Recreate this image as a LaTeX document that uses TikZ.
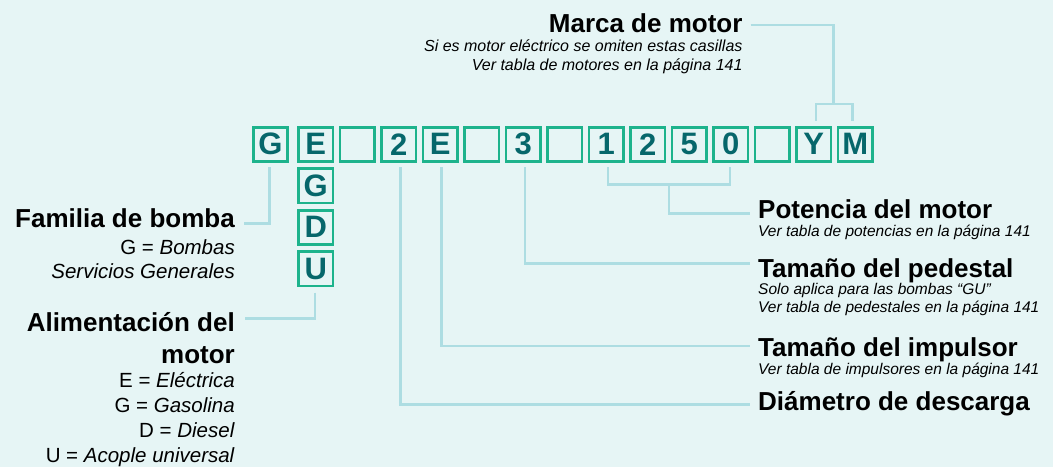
\documentclass[tikz,border=0pt]{standalone}
\usepackage{fontspec}
\setmainfont{Liberation Sans}
\usetikzlibrary{calc}
\definecolor{bgc}{HTML}{E6F5F5}
\definecolor{boxc}{HTML}{1DB38C}
\definecolor{letc}{HTML}{06676B}
\definecolor{linec}{HTML}{ADDDE2}
\begin{document}
\begin{tikzpicture}[x=1pt,y=-1pt,
 cbox/.style={draw=boxc, line width=2.7pt, minimum size=34.3pt, inner sep=0pt, text=letc, font=\fontsize{31}{31}\selectfont\bfseries},
 ttl/.style={inner sep=0pt, font=\fontsize{26}{30}\selectfont\bfseries},
 sub/.style={inner sep=0pt, font=\fontsize{15.5}{18}\selectfont\itshape},
 tsub/.style={inner sep=0pt, font=\fontsize{16}{18}\selectfont\itshape},
 desc/.style={inner sep=0pt, font=\fontsize{20.5}{24}\selectfont},
 conn/.style={draw=linec, line width=2.4pt}]
\fill[bgc] (0,0) rectangle (1053,467);
\useasboundingbox (0,0) rectangle (1053,467);

% code boxes
\node[cbox] (bG)  at (270.5,144.3) {G};
\node[cbox] (bE)  at (315.7,144.3) {E};
\node[cbox] (bx1) at (357.2,144.3) {};
\node[cbox] (b2)  at (398.7,144.3) {2};
\node[cbox] (bE2) at (440.2,144.3) {E};
\node[cbox] (bx2) at (481.7,144.3) {};
\node[cbox] (b3)  at (523.2,144.3) {3};
\node[cbox] (bx3) at (564.7,144.3) {};
\node[cbox] (b1)  at (606.2,144.3) {1};
\node[cbox] (b2b) at (647.7,144.3) {2};
\node[cbox] (b5)  at (689.2,144.3) {5};
\node[cbox] (b0)  at (730.7,144.3) {0};
\node[cbox] (bx4) at (772.2,144.3) {};
\node[cbox] (bY)  at (813.7,144.3) {Y};
\node[cbox] (bM)  at (855.2,144.3) {M};
\node[cbox] (cG)  at (315.7,185.8) {G};
\node[cbox] (cD)  at (315.7,227.3) {D};
\node[cbox] (cU)  at (315.7,268.8) {U};

% top label
\node[ttl, anchor=base east] (tMar) at (742.7,32) {Marca de motor};
\node[tsub, anchor=base east] (sMar1) at (742.7,51.5) {Si es motor eléctrico se omiten estas casillas};
\node[tsub, anchor=base east] (sMar2) at (742.7,70) {Ver tabla de motores en la página 141};

% right labels
\node[ttl, anchor=base west] (tPot) at (758,218) {Potencia del motor};
\node[sub, anchor=base west] (sPot) at (758,236.5) {Ver tabla de potencias en la página 141};
\node[ttl, anchor=base west] (tPed) at (758,277.5) {Tamaño del pedestal};
\node[sub, anchor=base west] (sPed1) at (758,294) {Solo aplica para las bombas “GU”};
\node[sub, anchor=base west] (sPed2) at (758,312.5) {Ver tabla de pedestales en la página 141};
\node[ttl, anchor=base west] (tImp) at (758,356.7) {Tamaño del impulsor};
\node[sub, anchor=base west] (sImp) at (758,374) {Ver tabla de impulsores en la página 141};
\node[ttl, anchor=base west] (tDia) at (758,410) {Diámetro de descarga};

% left labels
\node[ttl, anchor=base east] (tFam) at (235,227) {Familia de bomba};
\node[desc, anchor=base east] (dFam1) at (235,254) {G = \textit{Bombas}};
\node[desc, anchor=base east] (dFam2) at (235,278) {\textit{Servicios Generales}};
\node[ttl, anchor=base east] (tAli) at (235,331) {Alimentación del};
\node[ttl, anchor=base east] (tAli2) at (235,363.5) {motor};
\node[desc, anchor=base east] (dAli1) at (235,387.5) {E = \textit{Eléctrica}};
\node[desc, anchor=base east] (dAli2) at (235,412.5) {G = \textit{Gasolina}};
\node[desc, anchor=base east] (dAli3) at (235,437.5) {D = \textit{Diesel}};
\node[desc, anchor=base east] (dAli4) at (235,462.5) {U = \textit{Acople universal}};

% connectors
\draw[conn] ($(bG.south)+(-1.2,4.5)$) |- ($(tFam.base east)+(9,-3.7)$);
\draw[conn] ($(cU.south)+(-0.7,5.4)$) |- ($(tAli.base east)+(10,-12.7)$);
\draw[conn] ($(b2.south)+(1.6,4.5)$) |- ($(tDia.base west)+(-8,-5.7)$);
\draw[conn] ($(bE2.south)+(1.1,4.5)$) |- ($(tImp.base west)+(-8,-10.7)$);
\draw[conn] ($(b3.south)+(1.5,4.5)$) |- ($(tPed.base west)+(-8,-14.2)$);
\draw[conn] ($(b1.south)+(1.8,4.5)$) |- ($(b0.south)+(-0.7,21.5)$) -- ($(b0.south)+(-0.7,4.5)$);
\coordinate (pm) at ($($(b1.south)!0.5!(b0.south)$)+(0.5,21.5)$);
\draw[conn] (pm) |- ($(tPot.base west)+(-8,-4.7)$);
\draw[conn] ($(bY.north)+(2,-5)$) |- ($(bM.north)+(-2.9,-21.8)$) -- ($(bM.north)+(-2.9,-5)$);
\coordinate (mm) at ($($(bY.north)!0.5!(bM.north)$)+(-1,-21.8)$);
\draw[conn] ($(tMar.base east)+(8,-7)$) -| (mm);
\end{tikzpicture}
\end{document}
